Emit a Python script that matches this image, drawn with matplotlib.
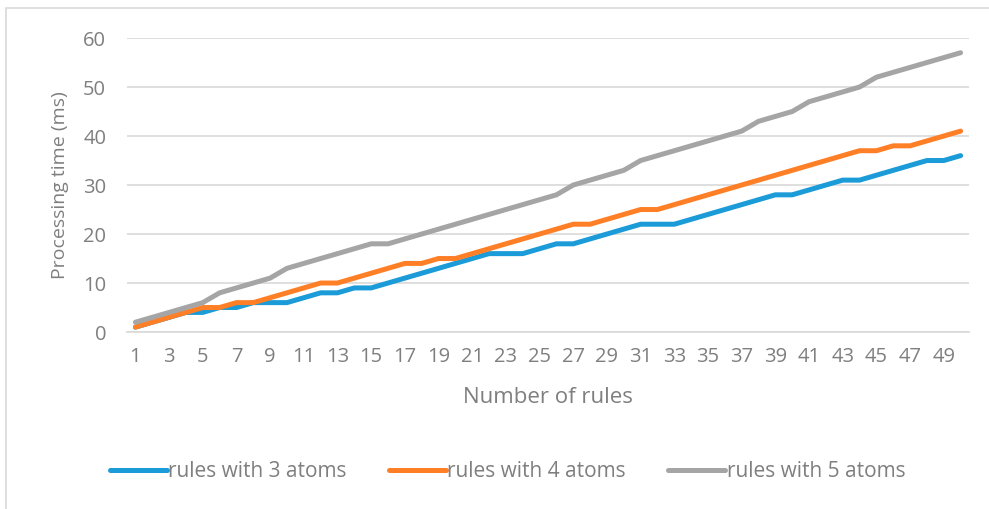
import numpy as np
import matplotlib.pyplot as plt
from matplotlib.patches import Rectangle

plt.rcParams['font.family'] = ['Open Sans', 'DejaVu Sans']

rules = np.arange(1, 51)
atoms3 = [1, 2, 3, 4, 4, 5, 5, 6, 6, 6, 7, 8, 8, 9, 9, 10, 11, 12, 13, 14,
          15, 16, 16, 16, 17, 18, 18, 19, 20, 21, 22, 22, 22, 23, 24, 25, 26, 27, 28, 28,
          29, 30, 31, 31, 32, 33, 34, 35, 35, 36]
atoms4 = [1, 2, 3, 4, 5, 5, 6, 6, 7, 8, 9, 10, 10, 11, 12, 13, 14, 14, 15, 15,
          16, 17, 18, 19, 20, 21, 22, 22, 23, 24, 25, 25, 26, 27, 28, 29, 30, 31, 32, 33,
          34, 35, 36, 37, 37, 38, 38, 39, 40, 41]
atoms5 = [2, 3, 4, 5, 6, 8, 9, 10, 11, 13, 14, 15, 16, 17, 18, 18, 19, 20, 21, 22,
          23, 24, 25, 26, 27, 28, 30, 31, 32, 33, 35, 36, 37, 38, 39, 40, 41, 43, 44, 45,
          47, 48, 49, 50, 52, 53, 54, 55, 56, 57]
labels = ['rules with 3 atoms', 'rules with 4 atoms', 'rules with 5 atoms']
colors = ['#1B9BD7', '#FF7F27', '#A5A5A5']

fig = plt.figure(figsize=(9.89, 5.09), dpi=100)
# outer chart border
fig.patches.append(Rectangle((0.006, -0.05), 1.1, 1.035, transform=fig.transFigure,
                             fill=False, edgecolor='#D9D9D9', linewidth=1.2))
ax = fig.add_axes([0.1284, 0.3477, 0.8514, 0.5776])

for ys, lab, c in zip([atoms3, atoms4, atoms5], labels, colors):
    ax.plot(rules, ys, color=c, linewidth=3.6, label=lab, solid_capstyle='round',
            solid_joinstyle='round')

ax.set_xlim(0.5, 50.5)
ax.set_ylim(0, 60)
ax.set_yticks(range(0, 61, 10))
ax.set_xticks(range(1, 51, 2))
ax.grid(axis='y', color='#D9D9D9', linewidth=1.2)
ax.set_axisbelow(True)
for s in ['top', 'right', 'left']:
    ax.spines[s].set_visible(False)
ax.spines['bottom'].set_color('#D9D9D9')
ax.spines['bottom'].set_linewidth(1.2)
ax.tick_params(axis='both', length=0, labelsize=14.5, labelcolor='#7F7F7F')
ax.tick_params(axis='y', pad=15)
ax.tick_params(axis='x', pad=11)

ax.set_xlabel('Number of rules', fontsize=16, color='#7F7F7F', labelpad=14)
ax.set_ylabel('Processing time (ms)', fontsize=14, color='#7F7F7F', labelpad=10)

fig.legend(loc='center', bbox_to_anchor=(0.513, 0.073), ncol=3, frameon=False,
           fontsize=15, labelcolor='#7F7F7F', handlelength=2.74, handletextpad=0.05,
           columnspacing=2.05)

fig.savefig('out.png', dpi=100)
